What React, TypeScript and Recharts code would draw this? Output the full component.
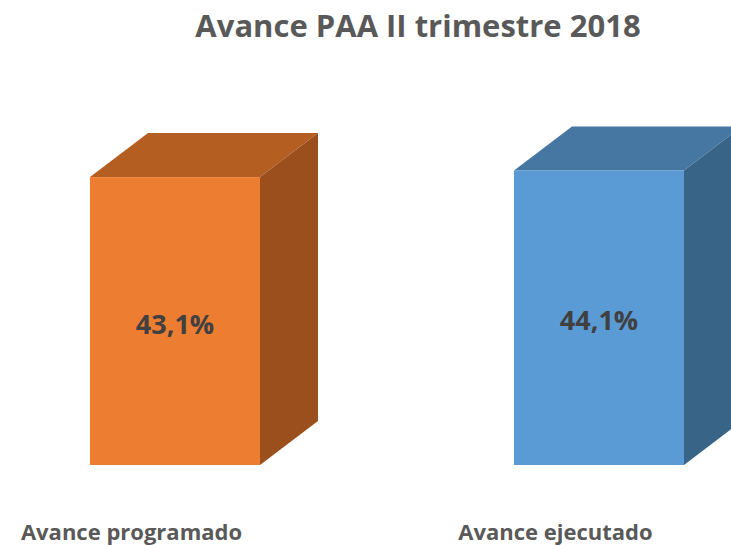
import React from "react";
import { BarChart, Bar, XAxis, YAxis, LabelList } from "recharts";

const categories = ["Avance programado", "Avance ejecutado"];
const values = [43.1, 44.1];
const valueLabels = ["43,1%", "44,1%"];
const title = "Avance PAA II trimestre 2018";

const palettes = [
  { front: "#ED7D31", top: "#B55E22", side: "#9A4F1D" },
  { front: "#5B9BD5", top: "#4677A3", side: "#386487" },
];

const data = categories.map((c, i) => ({ name: c, value: values[i], label: valueLabels[i], idx: i }));

const DX = 58;
const DY = 44;

const Bar3D = (props: any) => {
  const { x, y, width, height, payload } = props;
  const p = palettes[payload.idx % palettes.length];
  const x2 = x + width;
  const yb = y + height;
  return (
    <g>
      <polygon
        points={`${x},${y} ${x + DX},${y - DY} ${x2 + DX},${y - DY} ${x2},${y}`}
        fill={p.top}
      />
      <polygon
        points={`${x2},${y} ${x2 + DX},${y - DY} ${x2 + DX},${yb - DY} ${x2},${yb}`}
        fill={p.side}
      />
      <rect x={x} y={y} width={width} height={height} fill={p.front} />
    </g>
  );
};

const CatTick = (props: any) => {
  const { x, y, payload } = props;
  return (
    <text
      x={x - 43.5}
      y={y + 67}
      textAnchor="middle"
      fill="#595959"
      fontFamily="'Open Sans', sans-serif"
      fontWeight={700}
      fontSize={22}
    >
      {payload.value}
    </text>
  );
};

export default function App() {
  return (
    <div style={{ position: "absolute", left: 0, top: 0, width: 731, height: 545, overflow: "hidden", background: "#fff" }}>
      <div
        style={{
          position: "absolute",
          left: 0,
          width: 731,
          top: 4,
          textAlign: "center",
          paddingLeft: 105,
          boxSizing: "border-box",
          fontFamily: "'Open Sans', sans-serif",
          fontWeight: 700,
          fontSize: 31,
          color: "#595959",
        }}
      >
        {title}
      </div>
      <BarChart
        width={731}
        height={545}
        data={data}
        margin={{ top: 131, right: -80, bottom: 50, left: -37 }}
        barSize={170}
      >
        <YAxis hide domain={[0, 50]} />
        <XAxis
          dataKey="name"
          axisLine={false}
          tickLine={false}
          height={30}
          tick={<CatTick />}
          interval={0}
        />
        <Bar dataKey="value" isAnimationActive={false} shape={<Bar3D />}>
          <LabelList
            dataKey="label"
            position="center"
            fill="#404040"
            fontFamily="'Open Sans', sans-serif"
            fontWeight={700}
            fontSize={27}
            dy={3}
          />
        </Bar>
      </BarChart>
    </div>
  );
}
